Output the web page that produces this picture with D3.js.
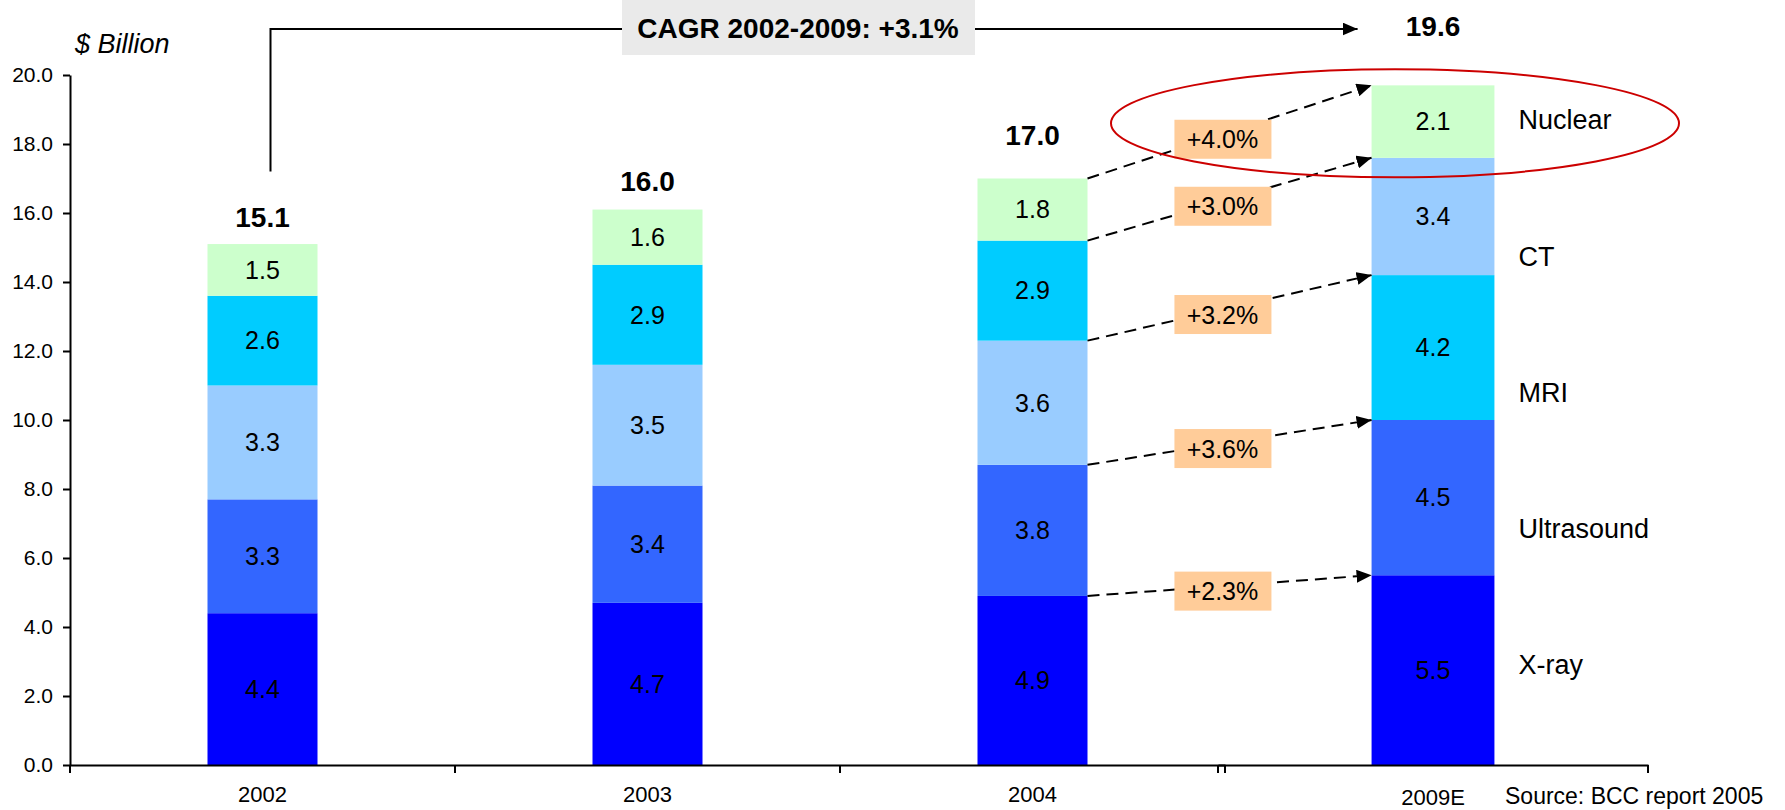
<!DOCTYPE html>
<html>
<head>
<meta charset="utf-8">
<script src="https://cdn.jsdelivr.net/npm/d3@7"></script>
<style>
  body { margin: 0; background: #fff; }
  svg text { font-family: Arial, "Liberation Sans", sans-serif; }
</style>
</head>
<body>
<script>
// data
var histYears = ["2002", "2003", "2004"];
var projYears = ["2009E"];
var years = histYears.concat(projYears);
var segments = ["X-ray", "Ultrasound", "CT", "MRI", "Nuclear"];
var xray       = [4.4, 4.7, 4.9, 5.5];
var ultrasound = [3.3, 3.4, 3.8, 4.5];
var ct         = [3.3, 3.5, 3.6, 3.4];
var mri        = [2.6, 2.9, 2.9, 4.2];
var nuclear    = [1.5, 1.6, 1.8, 2.1];
var totals     = [15.1, 16.0, 17.0, 19.6];
var growth     = ["+2.3%", "+3.6%", "+3.2%", "+3.0%", "+4.0%"];
var legendNames = ["Nuclear", "CT", "MRI", "Ultrasound", "X-ray"];
var yTicks = [0, 2, 4, 6, 8, 10, 12, 14, 16, 18, 20];
var cagrText = "CAGR 2002-2009: +3.1%";

// stacking order differs for the projection bar
var histOrder = ["X-ray", "Ultrasound", "CT", "MRI", "Nuclear"];
var projOrder = ["X-ray", "Ultrasound", "MRI", "CT", "Nuclear"];
var valuesByName = { "X-ray": xray, "Ultrasound": ultrasound, "CT": ct, "MRI": mri, "Nuclear": nuclear };

var width = 1785, height = 810;
var svg = d3.select("body").append("svg")
  .attr("width", width)
  .attr("height", height);

var y = d3.scaleLinear().domain([0, 20]).range([765, 75]);
var pad = 1 - 110 / 385;
var xHist = d3.scaleBand().domain(histYears).range([70, 1225]).paddingInner(pad).paddingOuter(pad / 2);
var xProj = d3.scaleBand().domain(projYears).range([1218, 1648]).paddingInner(pad).paddingOuter(pad / 2);
function xs(yr) { return histYears.indexOf(yr) >= 0 ? xHist : xProj; }

var color = d3.scaleOrdinal()
  .domain(segments)
  .range(["#0000FF", "#3366FF", "#99CCFF", "#00CCFF", "#CCFFCC"]);

// build stacked rows
var rows = [];
years.forEach(function(yr, i) {
  var order = projYears.indexOf(yr) >= 0 ? projOrder : histOrder;
  var acc = 0;
  order.forEach(function(name, k) {
    var v = valuesByName[name][i];
    rows.push({ year: yr, name: name, k: k, v: v, y0: acc, y1: acc + v });
    acc += v;
  });
});

svg.append("defs").append("marker")
  .attr("id", "head")
  .attr("markerUnits", "userSpaceOnUse")
  .attr("markerWidth", 15).attr("markerHeight", 13)
  .attr("refX", 15).attr("refY", 6.5)
  .attr("orient", "auto")
  .append("path")
  .attr("d", "M0,0 L15,6.5 L0,13 Z")
  .attr("fill", "#000");

// bars
svg.selectAll("rect.seg")
  .data(rows)
  .enter()
  .append("rect")
  .attr("class", "seg")
  .attr("x", function(d) { return xs(d.year)(d.year); })
  .attr("width", function(d) { return xs(d.year).bandwidth(); })
  .attr("y", function(d) { return y(d.y1); })
  .attr("height", function(d) { return y(d.y0) - y(d.y1); })
  .style("fill", function(d) { return color(d.name); });

svg.selectAll("text.seg")
  .data(rows)
  .enter()
  .append("text")
  .attr("class", "seg")
  .attr("x", function(d) { return xs(d.year)(d.year) + xs(d.year).bandwidth() / 2; })
  .attr("y", function(d) { return y((d.y0 + d.y1) / 2); })
  .attr("dy", "0.35em")
  .attr("text-anchor", "middle")
  .style("font-size", "25px")
  .text(function(d) { return d3.format(".1f")(d.v); });

// totals
var totalLift = [17, 19, 34, 49];
svg.selectAll("text.total")
  .data(years)
  .enter()
  .append("text")
  .attr("class", "total")
  .attr("x", function(d) { return xs(d)(d) + xs(d).bandwidth() / 2; })
  .attr("y", function(d, i) {
    var top = d3.max(rows.filter(function(r) { return r.year === d; }), function(r) { return r.y1; });
    return y(top) - totalLift[i];
  })
  .attr("text-anchor", "middle")
  .style("font-size", "28px")
  .style("font-weight", "bold")
  .text(function(d, i) { return d3.format(".1f")(totals[i]); });

// y axis
svg.append("g")
  .attr("transform", "translate(70,0)")
  .call(d3.axisLeft(y).tickValues(yTicks).tickFormat(d3.format(".1f")).tickSize(7).tickSizeOuter(0).tickPadding(10))
  .call(function(g) {
    g.select(".domain").attr("stroke-width", 2);
    g.selectAll(".tick line").attr("stroke-width", 2);
    g.selectAll("text").style("font-size", "21px").attr("fill", "#000");
  });

// x axes (broken between history and projection)
function drawX(scale, padTxt) {
  var g = svg.append("g")
    .attr("transform", "translate(0,765)")
    .call(d3.axisBottom(scale).tickSize(0).tickPadding(padTxt).tickSizeOuter(0));
  g.select(".domain").attr("stroke-width", 2);
  g.selectAll("text").style("font-size", "22px").attr("fill", "#000");
  var r = scale.range();
  var bounds = d3.range(scale.domain().length + 1).map(function(i) { return r[0] + i * scale.step(); });
  g.selectAll("line.bound")
    .data(bounds)
    .enter()
    .append("line")
    .attr("class", "bound")
    .attr("x1", function(d) { return d; }).attr("x2", function(d) { return d; })
    .attr("y1", 0).attr("y2", 8)
    .attr("stroke", "#000").attr("stroke-width", 2);
}
drawX(xHist, 21);
drawX(xProj, 24);

svg.append("text")
  .attr("x", 75).attr("y", 53)
  .style("font-size", "27px")
  .style("font-style", "italic")
  .text("$ Billion");

svg.append("text")
  .attr("x", 1505).attr("y", 804)
  .style("font-size", "23px")
  .text("Source: BCC report 2005");

// growth arrows from 2004 to 2009E
var a = rows.filter(function(r) { return r.year === "2004"; });
var b = rows.filter(function(r) { return r.year === "2009E"; });
var xa = xHist("2004") + xHist.bandwidth();
var xb = xProj("2009E");
var links = a.map(function(r, k) {
  return { y0: y(r.y1), y1: y(b[k].y1), label: growth[k] };
});

svg.selectAll("line.grow")
  .data(links)
  .enter()
  .append("line")
  .attr("class", "grow")
  .attr("x1", xa).attr("y1", function(d) { return d.y0; })
  .attr("x2", xb).attr("y2", function(d) { return d.y1; })
  .attr("stroke", "#000")
  .attr("stroke-width", 2)
  .attr("stroke-dasharray", "12,7")
  .attr("marker-end", "url(#head)");

var t = 0.475;
var bx = xa + (xb - xa) * t;
var boxes = svg.selectAll("g.gbox")
  .data(links)
  .enter()
  .append("g")
  .attr("class", "gbox")
  .attr("transform", function(d) { return "translate(" + bx + "," + (d.y0 + (d.y1 - d.y0) * t + 5) + ")"; });
boxes.append("rect")
  .attr("x", -48).attr("y", -19.5)
  .attr("width", 97).attr("height", 39)
  .style("fill", "#FFCC99");
boxes.append("text")
  .attr("text-anchor", "middle")
  .attr("dy", "0.36em")
  .style("font-size", "25px")
  .text(function(d) { return d.label; });

// right-side labels
var legendY = d3.scalePoint().domain(legendNames).range([y(18.7), y(2.9)]);
svg.selectAll("text.leg")
  .data(legendNames)
  .enter()
  .append("text")
  .attr("class", "leg")
  .attr("x", xb + xProj.bandwidth() + 24)
  .attr("y", function(d) { return legendY(d); })
  .attr("dy", "0.35em")
  .style("font-size", "27px")
  .text(function(d) { return d; });

// red ellipse around nuclear
svg.append("ellipse")
  .attr("cx", xProj("2009E") + xProj.bandwidth() / 2 - 38)
  .attr("cy", y(18.6))
  .attr("rx", 284).attr("ry", 54)
  .style("fill", "none")
  .style("stroke", "#CC0000")
  .style("stroke-width", 2);

// CAGR bracket arrow
var cx0 = xHist("2002") + xHist.bandwidth() / 2 + 8;
svg.append("path")
  .attr("d", "M" + cx0 + "," + y(17.2) + "V29H" + (xb - 14))
  .attr("fill", "none")
  .attr("stroke", "#000")
  .attr("stroke-width", 2)
  .attr("marker-end", "url(#head)");

svg.append("rect")
  .attr("x", 622).attr("y", 0)
  .attr("width", 353).attr("height", 55)
  .style("fill", "#EAEAEA");
svg.append("text")
  .attr("x", 798).attr("y", 38)
  .attr("text-anchor", "middle")
  .style("font-size", "28px")
  .style("font-weight", "bold")
  .text(cagrText);
</script>
</body>
</html>
